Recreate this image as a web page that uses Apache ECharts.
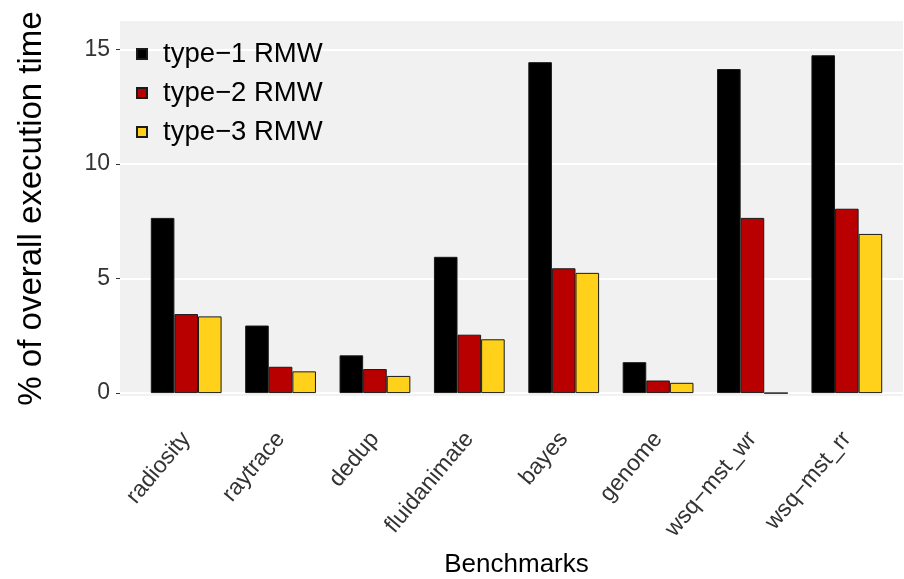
<!DOCTYPE html>
<html>
<head>
<meta charset="utf-8">
<title>RMW execution time</title>
<script src="https://cdn.jsdelivr.net/npm/echarts@6/dist/echarts.min.js"></script>
<style>
  html, body { margin: 0; padding: 0; background: #fff; }
  #chart { width: 904px; height: 579px; }
</style>
</head>
<body>
<div id="chart"></div>
<script>
const benchmarks = ['radiosity', 'raytrace', 'dedup', 'fluidanimate', 'bayes', 'genome', 'wsq\u2212mst_wr', 'wsq\u2212mst_rr']
const seriesNames = ['type\u22121 RMW', 'type\u22122 RMW', 'type\u22123 RMW']
const type1 = [7.65, 2.95, 1.65, 5.95, 14.45, 1.35, 14.15, 14.75]
const type2 = [3.45, 1.15, 1.05, 2.55, 5.45, 0.55, 7.65, 8.05]
const type3 = [3.35, 0.95, 0.75, 2.35, 5.25, 0.45, 0, 6.95]
const colors = ['#000000', '#B80000', '#FFD11A']

const font = '"Liberation Sans", Arial, Helvetica, sans-serif'
const yMin = -0.17
const yMax = 16.29

const chart = echarts.init(document.getElementById('chart'))

const makeBar = (name, values, color) => ({
  name: name,
  type: 'bar',
  xAxisIndex: 1,
  yAxisIndex: 1,
  data: values,
  barGap: '0%',
  barCategoryGap: '25%',
  itemStyle: { color: color, borderColor: '#1a1a1a', borderWidth: 1 },
  emphasis: { disabled: true },
})

const option = {
  animation: false,
  textStyle: { fontFamily: font },
  grid: [
    // panel (background + horizontal grid lines)
    {
      left: 120, right: 1, top: 20, bottom: 182,
      show: true, backgroundColor: '#F1F1F1', borderWidth: 0,
      outerBoundsMode: 'none',
    },
    // bars
    { left: 139, right: 10, top: 20, bottom: 182, outerBoundsMode: 'none' },
  ],
  legend: {
    orient: 'vertical',
    left: 131,
    top: 35,
    itemWidth: 10,
    itemHeight: 10,
    itemGap: 11,
    icon: 'rect',
    data: seriesNames,
    textStyle: {
      fontSize: 27.5, color: '#000', fontFamily: font, lineHeight: 28,
      padding: [0, 0, 0, 11],
    },
  },
  xAxis: [
    { type: 'category', gridIndex: 0, data: benchmarks, show: false },
    {
      type: 'category',
      gridIndex: 1,
      data: benchmarks,
      name: 'Benchmarks',
      nameLocation: 'middle',
      nameGap: 155,
      nameTextStyle: { fontSize: 26, color: '#000', fontFamily: font },
      axisLine: { show: false },
      axisTick: { show: false },
      axisLabel: {
        rotate: 50,
        interval: 0,
        margin: 38,
        fontSize: 23,
        color: '#333',
        fontFamily: font,
      },
      splitLine: { show: false },
    },
  ],
  yAxis: [
    {
      type: 'value',
      gridIndex: 0,
      min: yMin,
      max: yMax,
      minInterval: 5,
      maxInterval: 5,
      name: '% of overall execution time',
      nameLocation: 'middle',
      nameGap: 72,
      nameTextStyle: { fontSize: 33, color: '#000', fontFamily: font },
      axisLine: { show: false },
      axisTick: { show: true, length: 4, lineStyle: { color: '#333' } },
      axisLabel: {
        showMinLabel: false,
        showMaxLabel: false,
        margin: 10,
        fontSize: 23,
        color: '#333',
        fontFamily: font,
      },
      splitLine: { show: true, lineStyle: { color: '#ffffff', width: 2 } },
    },
    {
      type: 'value',
      gridIndex: 1,
      min: yMin,
      max: yMax,
      show: false,
      splitLine: { show: false },
    },
  ],
  series: [
    makeBar(seriesNames[0], type1, colors[0]),
    makeBar(seriesNames[1], type2, colors[1]),
    makeBar(seriesNames[2], type3, colors[2]),
  ],
}

chart.setOption(option)
</script>
</body>
</html>
